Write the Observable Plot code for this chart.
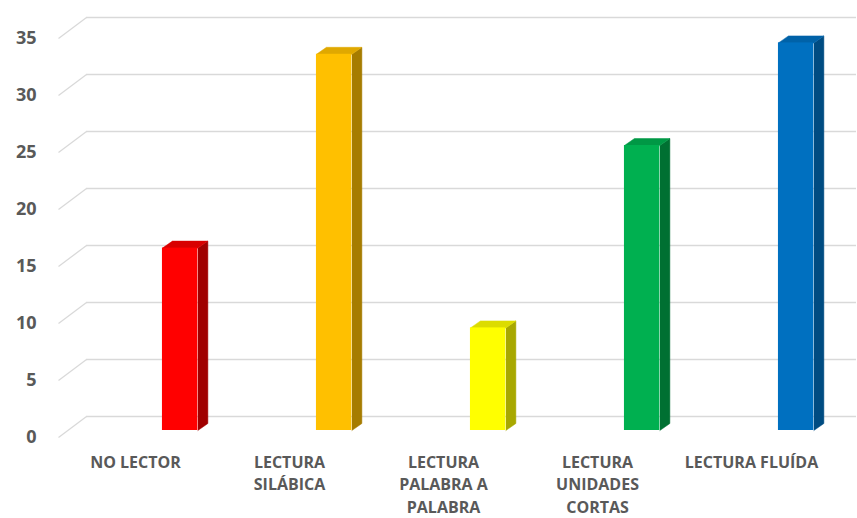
<!DOCTYPE html>
<html><head><meta charset="utf-8">
<script src="https://cdn.jsdelivr.net/npm/d3@7"></script>
<script src="https://cdn.jsdelivr.net/npm/@observablehq/plot@0.6"></script>
<style>body{margin:0;background:#fff}</style>
</head><body><div id="chart"></div>
<script>
const categories = ["NO LECTOR", "LECTURA SILÁBICA", "LECTURA PALABRA A PALABRA", "LECTURA UNIDADES CORTAS", "LECTURA FLUÍDA"];
const tickLabels = ["NO LECTOR", "LECTURA\nSILÁBICA", "LECTURA\nPALABRA A\nPALABRA", "LECTURA\nUNIDADES\nCORTAS", "LECTURA FLUÍDA"];
const values = [16, 33, 9, 25, 34];
const frontColors = ["#ff0000", "#ffc000", "#ffff00", "#00b050", "#0070c0"];
const topColors = ["#d80000", "#e0a800", "#dcdc00", "#009845", "#0062a8"];
const sideColors = ["#a00000", "#a67c00", "#a8a800", "#007032", "#004c82"];
const yTicks = [0, 5, 10, 15, 20, 25, 30, 35];

const W = 857, H = 518, ML = 58, MR = 29, MT = 38, MB = 81;
const kx = (W - ML - MR) / categories.length;   // px per x unit
const ky = (H - MT - MB) / 35;                   // px per y unit
const wallDx = 28, wallDy = 21;                  // back wall depth (px)
const barDx = 10, barDy = 7;                     // bar depth (px)
const barL = 0.675, barR = 0.905;                // bar position within band

const bars = categories.map((c, i) => ({i, c, v: values[i], front: frontColors[i], top: topColors[i], side: sideColors[i]}));
const sideVerts = bars.flatMap(b => {
  const x2 = b.i + barR, ex = barDx / kx, ey = barDy / ky;
  return [[x2, 0], [x2 + ex, ey], [x2 + ex, b.v + ey], [x2, b.v]].map(([x, y]) => ({x, y, k: b.c, col: b.side}));
});
const topVerts = bars.flatMap(b => {
  const x1 = b.i + barL, x2 = b.i + barR, ex = barDx / kx, ey = barDy / ky;
  return [[x1, b.v], [x1 + ex, b.v + ey], [x2 + ex, b.v + ey], [x2, b.v]].map(([x, y]) => ({x, y, k: b.c, col: b.top}));
});

const chart = Plot.plot({
  width: W, height: H,
  marginLeft: ML, marginRight: MR, marginTop: MT, marginBottom: MB,
  x: {domain: [0, categories.length], axis: null},
  y: {domain: [0, 35], axis: null},
  style: {fontFamily: "'Open Sans', sans-serif", background: "#fff"},
  marks: [
    Plot.ruleY(yTicks, {x1: 0, x2: categories.length, dx: wallDx, dy: -wallDy, stroke: "#d9d9d9", strokeWidth: 1.6}),
    Plot.link(yTicks, {x1: 0, y1: d => d, x2: wallDx / kx, y2: d => d + wallDy / ky, stroke: "#d9d9d9", strokeWidth: 1.3}),
    Plot.line(sideVerts, {x: "x", y: "y", z: "k", fill: "col", stroke: "col", strokeWidth: 0.5, dy: -barDy}),
    Plot.line(topVerts, {x: "x", y: "y", z: "k", fill: "col", stroke: "col", strokeWidth: 0.5, dy: -barDy}),
    Plot.rectY(bars, {x1: d => d.i + barL, x2: d => d.i + barR, y1: 0, y2: "v", fill: "front", dy: -barDy}),
    Plot.text(yTicks, {x: 0, y: d => d, text: d => String(d), textAnchor: "end", dx: -22, fontWeight: "bold", fontSize: 18, fill: "#595959"}),
    Plot.text(bars, {x: d => d.i + 0.5, y: 0, text: d => tickLabels[d.i], lineAnchor: "top", dy: 14, lineHeight: 1.42, fontWeight: "bold", fontSize: 16, fill: "#595959"})
  ]
});
document.getElementById("chart").appendChild(chart);
</script>
</body></html>
